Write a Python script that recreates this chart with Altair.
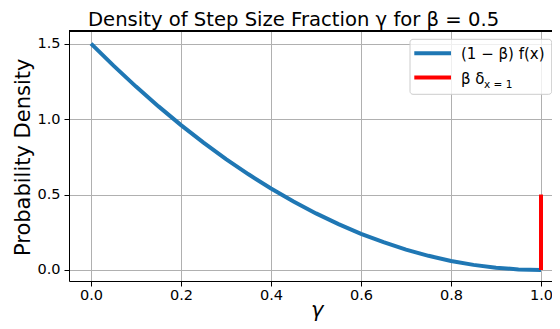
import altair as alt
import pandas as pd

# ---- data ----
gamma = [0.0, 0.05, 0.1, 0.15, 0.2, 0.25, 0.3, 0.35, 0.4, 0.45, 0.5,
         0.55, 0.6, 0.65, 0.7, 0.75, 0.8, 0.85, 0.9, 0.95, 1.0]
density = [1.5, 1.354, 1.215, 1.084, 0.96, 0.844, 0.735, 0.634, 0.54, 0.454, 0.375,
           0.304, 0.24, 0.184, 0.135, 0.094, 0.06, 0.034, 0.015, 0.004, 0.0]
delta_x = [1.0]
delta_lo = [0.0]
delta_hi = [0.5]
x_ticks = [0.0, 0.2, 0.4, 0.6, 0.8, 1.0]
y_ticks = [0.0, 0.5, 1.0, 1.5]
title_text = ["Density of Step Size Fraction γ for β = 0.5"]
legend_text = ["(1 − β) f(x)", "β δ"]
legend_sub = ["x = 1"]

# ---- layout ----
FONT = "DejaVu Sans"
W, H = 483, 250
X_DOMAIN = [-0.0489, 1.0244]
Y_DOMAIN = [-0.0729, 1.5835]
BLUE = "#1f77b4"
RED = "red"
LX = 341  # legend box left (plot coords)

curve_df = pd.DataFrame({"x": gamma, "y": density})
delta_df = pd.DataFrame({"x": delta_x, "lo": delta_lo, "hi": delta_hi})

xscale = alt.Scale(domain=X_DOMAIN, nice=False, zero=False)
yscale = alt.Scale(domain=Y_DOMAIN, nice=False, zero=False)

xaxis = alt.Axis(values=x_ticks, format=".1f", title="γ", titleFontStyle="italic",
                 labelPadding=2, titleX=247.7, titleY=35, titleBaseline="alphabetic",
                 titleAlign="center")
yaxis = alt.Axis(values=y_ticks, format=".1f", title="Probability Density",
                 labelPadding=4, titleAngle=270, titleX=-39.7, titleY=125.8,
                 titleBaseline="alphabetic", titleAlign="center")

curve = alt.Chart(curve_df).mark_line(color=BLUE, strokeWidth=4).encode(
    x=alt.X("x:Q", scale=xscale, axis=xaxis),
    y=alt.Y("y:Q", scale=yscale, axis=yaxis),
)

delta = alt.Chart(delta_df).mark_rule(color=RED, strokeWidth=4).encode(
    x=alt.X("x:Q", scale=xscale),
    y=alt.Y("lo:Q", scale=yscale),
    y2="hi:Q",
)

top_border = alt.Chart(curve_df).mark_rule(color="black", strokeWidth=1).encode(
    x=alt.value(0), x2=alt.value(W), y=alt.value(0)
)

title = alt.Chart(pd.DataFrame({"t": title_text})).mark_text(
    align="left", baseline="alphabetic", font=FONT, fontSize=19.6, color="black"
).encode(x=alt.value(19), y=alt.value(-5), text="t:N")

legend_box = alt.Chart(pd.DataFrame({"a": [0]})).mark_rect(
    fill="white", fillOpacity=0.8, stroke="#cccccc", strokeWidth=1, cornerRadius=3
).encode(x=alt.value(LX), x2=alt.value(LX + 141.7), y=alt.value(8.3), y2=alt.value(63.3))

leg_blue = alt.Chart(pd.DataFrame({"a": [0]})).mark_rule(color=BLUE, strokeWidth=4).encode(
    x=alt.value(LX + 4.3), x2=alt.value(LX + 41), y=alt.value(22.3))
leg_red = alt.Chart(pd.DataFrame({"a": [0]})).mark_rule(color=RED, strokeWidth=4).encode(
    x=alt.value(LX + 4.3), x2=alt.value(LX + 41), y=alt.value(46.6))

leg_t1 = alt.Chart(pd.DataFrame({"t": [legend_text[0]]})).mark_text(
    align="left", baseline="alphabetic", font=FONT, fontSize=15, color="black"
).encode(x=alt.value(LX + 51), y=alt.value(28.3), text="t:N")
leg_t2 = alt.Chart(pd.DataFrame({"t": [legend_text[1]]})).mark_text(
    align="left", baseline="alphabetic", font=FONT, fontSize=15, color="black"
).encode(x=alt.value(LX + 51), y=alt.value(53.3), text="t:N")
leg_sub = alt.Chart(pd.DataFrame({"t": legend_sub})).mark_text(
    align="left", baseline="alphabetic", font=FONT, fontSize=10.5, color="black"
).encode(x=alt.value(LX + 74), y=alt.value(56.8), text="t:N")

chart = alt.layer(
    curve, delta, top_border, title, legend_box, leg_blue, leg_red, leg_t1, leg_t2, leg_sub
).properties(
    width=W, height=H,
    autosize=alt.AutoSizeParams(type="none"),
    padding={"left": 61, "top": 23, "right": 0, "bottom": 40},
).configure_view(stroke="transparent").configure_axis(
    grid=True, gridColor="#b0b0b0", gridWidth=1,
    domainColor="black", domainWidth=1,
    tickColor="black", tickWidth=1, tickSize=5,
    labelFont=FONT, labelFontSize=14.5, labelColor="black",
    titleFont=FONT, titleFontSize=21, titleFontWeight="normal", titleColor="black",
)

chart.save("out.html", embed_options={"renderer": "svg", "actions": False})
